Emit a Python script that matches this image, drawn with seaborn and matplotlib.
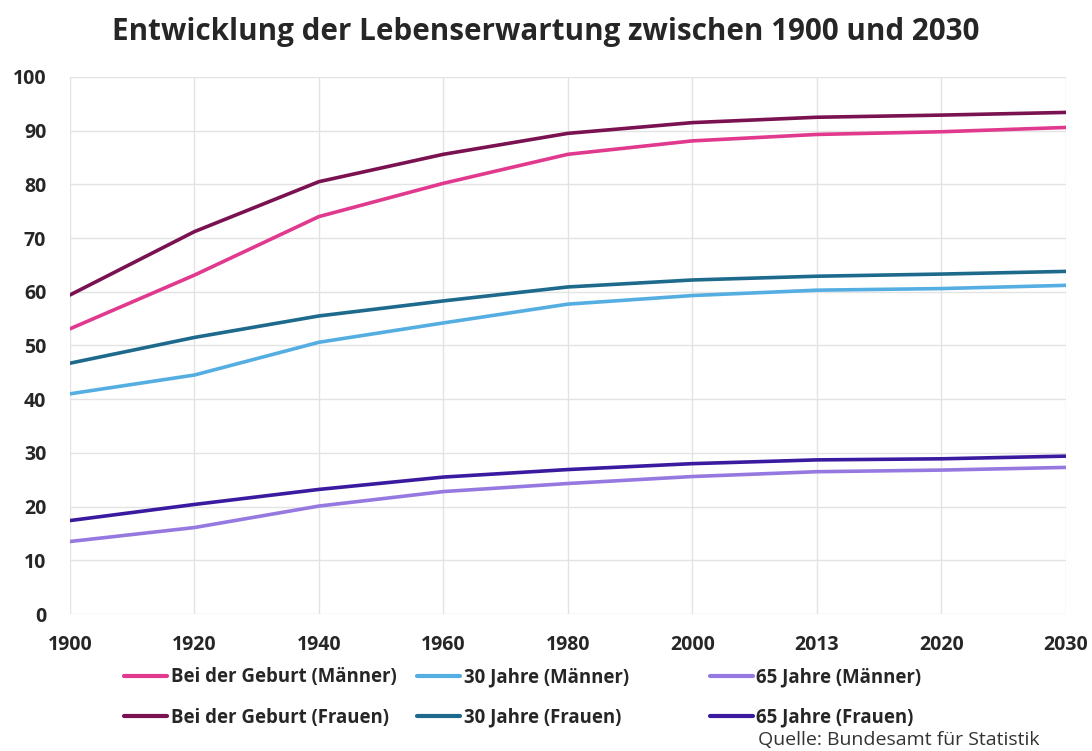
import pandas as pd
import matplotlib.pyplot as plt
from matplotlib.lines import Line2D
import seaborn as sns

# Werte
jahre = ["1900", "1920", "1940", "1960", "1980", "2000", "2013", "2020", "2030"]
geburt_m = [53.1, 63.1, 74.0, 80.2, 85.6, 88.1, 89.3, 89.8, 90.6]
geburt_f = [59.4, 71.2, 80.5, 85.6, 89.5, 91.5, 92.5, 92.9, 93.4]
j30_m = [41.0, 44.5, 50.6, 54.2, 57.7, 59.3, 60.3, 60.6, 61.2]
j30_f = [46.7, 51.5, 55.5, 58.3, 60.9, 62.2, 62.9, 63.3, 63.8]
j65_m = [13.5, 16.1, 20.1, 22.8, 24.3, 25.6, 26.5, 26.8, 27.3]
j65_f = [17.4, 20.4, 23.2, 25.5, 26.9, 28.0, 28.7, 28.9, 29.4]

serien = {
    "Bei der Geburt (Männer)": geburt_m,
    "Bei der Geburt (Frauen)": geburt_f,
    "30 Jahre (Männer)": j30_m,
    "30 Jahre (Frauen)": j30_f,
    "65 Jahre (Männer)": j65_m,
    "65 Jahre (Frauen)": j65_f,
}
farben = ["#E0398E", "#7A1150", "#55AEE2", "#1D6A8C", "#9679E0", "#3A1BA0"]

df = pd.DataFrame(
    [(j, name, v) for name, werte in serien.items() for j, v in zip(jahre, werte)],
    columns=["Jahr", "Serie", "Wert"],
)

sns.set_style("white")
plt.rcParams["font.family"] = ["Open Sans", "DejaVu Sans"]

fig, ax = plt.subplots(figsize=(10.92, 7.51), dpi=100)
fig.subplots_adjust(left=0.064, right=0.976, top=0.8975, bottom=0.1824)

sns.lineplot(data=df, x="Jahr", y="Wert", hue="Serie", palette=farben,
             linewidth=2.6, sort=False, legend=False, ax=ax)

ax.set_xlim(0, len(jahre) - 1)
ax.set_ylim(0, 100)
ax.set_yticks(range(0, 101, 10))
ax.grid(True, color="#E3E3E3", linewidth=1)
ax.set_axisbelow(True)
for s in ax.spines.values():
    s.set_visible(False)
ax.tick_params(axis="both", length=0, labelsize=14, pad=15)
ax.tick_params(axis="y", pad=17)
for lbl in ax.get_xticklabels() + ax.get_yticklabels():
    lbl.set_fontweight("bold")
ax.set_xlabel("")
ax.set_ylabel("")

fig.text(0.5, 0.957, "Entwicklung der Lebenserwartung zwischen 1900 und 2030",
         ha="center", va="center", fontsize=21.3, fontweight="bold")

# Legende in drei Spalten, wie im Original frei positioniert
namen = list(serien.keys())
spalten_x = [0.1136, 0.382, 0.650]
for i, x0 in enumerate(spalten_x):
    idx = [2 * i, 2 * i + 1]
    hs = [Line2D([], [], color=farben[k], linewidth=3) for k in idx]
    leg = fig.legend(hs, [namen[k] for k in idx], loc="center left",
                     bbox_to_anchor=(x0, 0.0712), frameon=False, borderpad=0,
                     borderaxespad=0, handlelength=2.3, handletextpad=0.2,
                     labelspacing=1.1, prop={"weight": "bold", "size": 13.4})

fig.text(0.952, 0.008, "Quelle: Bundesamt für Statistik", ha="right",
         fontsize=14, color="#333333")

plt.savefig("out.png", dpi=100)
